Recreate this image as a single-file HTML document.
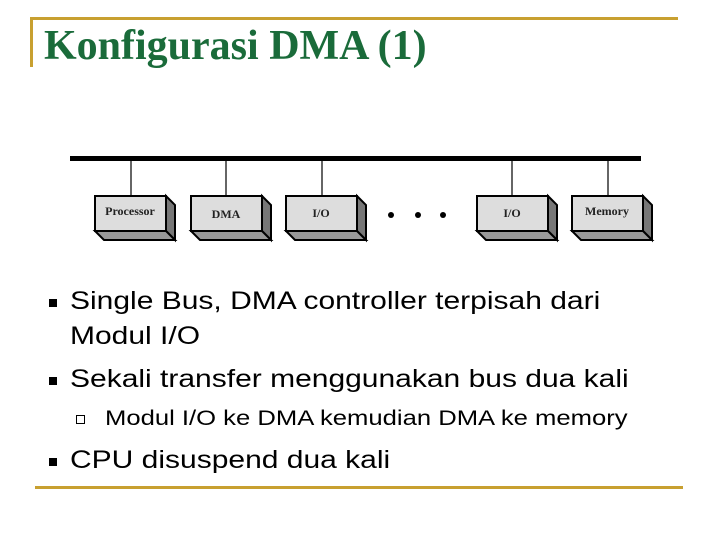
<!DOCTYPE html>
<html><head><style>
body{margin:0;width:720px;height:540px;background:#fff;position:relative;overflow:hidden;font-family:"Liberation Sans",sans-serif}
.a{position:absolute}
.t{left:44px;top:22px;font-family:"Liberation Serif",serif;font-weight:bold;font-size:42px;color:#1a6b3a;white-space:nowrap}
.txt{font-size:25px;color:#000;white-space:nowrap;transform:scaleX(1.2);transform-origin:0 0}
.b{width:8px;height:8px;background:#000}
.sb{width:7px;height:7px;border:1px solid #000;background:#fff}
</style></head><body>
<div class="a" style="left:30px;top:17px;width:648px;height:3px;background:#c8a030"></div>
<div class="a" style="left:30px;top:17px;width:3px;height:50px;background:#c8a030"></div>
<div class="a t">Konfigurasi DMA (1)</div>
<svg class="a" style="left:0;top:0" width="720" height="260">
<rect x="70" y="156" width="571" height="5" fill="#000"/>
<g stroke="#000" stroke-width="1.2">
<line x1="131" y1="160" x2="131" y2="196"/><line x1="226" y1="160" x2="226" y2="196"/><line x1="322" y1="160" x2="322" y2="196"/><line x1="512" y1="160" x2="512" y2="196"/><line x1="608" y1="160" x2="608" y2="196"/>
</g>
<g stroke="#000" stroke-width="2">
<polygon points="166,196 175,205 175,240 166,231" fill="#777"/><polygon points="95,231 166,231 175,240 104,240" fill="#999"/><rect x="95" y="196" width="71" height="35" fill="#ddd"/>
<polygon points="262,196 271,205 271,240 262,231" fill="#777"/><polygon points="191,231 262,231 271,240 200,240" fill="#999"/><rect x="191" y="196" width="71" height="35" fill="#ddd"/>
<polygon points="357,196 366,205 366,240 357,231" fill="#777"/><polygon points="286,231 357,231 366,240 295,240" fill="#999"/><rect x="286" y="196" width="71" height="35" fill="#ddd"/>
<polygon points="548,196 557,205 557,240 548,231" fill="#777"/><polygon points="477,231 548,231 557,240 486,240" fill="#999"/><rect x="477" y="196" width="71" height="35" fill="#ddd"/>
<polygon points="643,196 652,205 652,240 643,231" fill="#777"/><polygon points="572,231 643,231 652,240 581,240" fill="#999"/><rect x="572" y="196" width="71" height="35" fill="#ddd"/>
</g>
<g font-family="Liberation Serif,serif" font-size="12" font-weight="bold" fill="#222" text-anchor="middle">
<text x="130" y="215">Processor</text><text x="226" y="218">DMA</text><text x="321" y="217">I/O</text><text x="512" y="217">I/O</text><text x="607" y="215">Memory</text>
</g>
<circle cx="391" cy="215" r="3" fill="#000"/><circle cx="418" cy="215" r="3" fill="#000"/><circle cx="443" cy="215" r="3" fill="#000"/>
</svg>
<div class="a b" style="left:49px;top:299px"></div>
<div class="a txt" style="left:70px;top:287px">Single Bus, DMA controller terpisah dari</div>
<div class="a txt" style="left:70px;top:322px">Modul I/O</div>
<div class="a b" style="left:49px;top:377px"></div>
<div class="a txt" style="left:70px;top:365px">Sekali transfer menggunakan bus dua kali</div>
<div class="a sb" style="left:76px;top:415px"></div>
<div class="a txt" style="left:105px;top:407px;font-size:21px;transform:scaleX(1.22)">Modul I/O ke DMA kemudian DMA ke memory</div>
<div class="a b" style="left:49px;top:458px"></div>
<div class="a txt" style="left:70px;top:446px">CPU disuspend dua kali</div>
<div class="a" style="left:35px;top:486px;width:648px;height:3px;background:#c8a030"></div>
</body></html>
